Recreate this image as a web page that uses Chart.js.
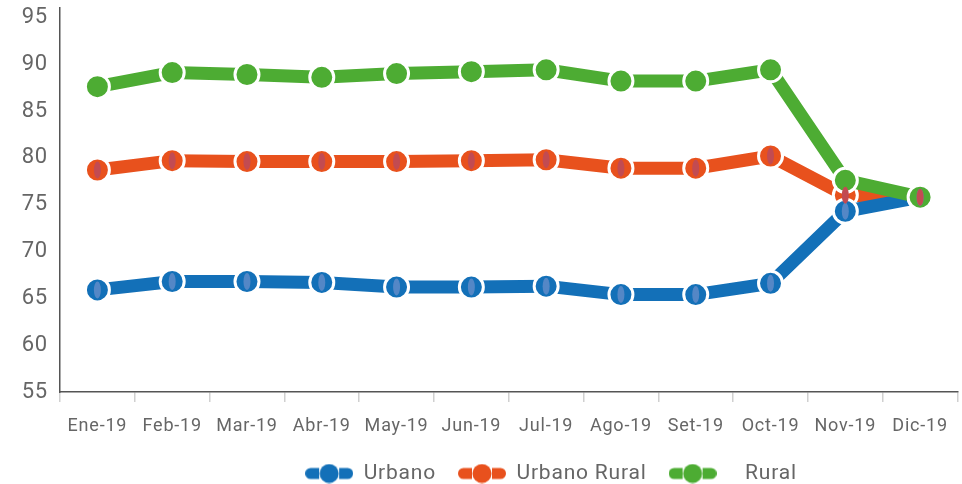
<!DOCTYPE html>
<html>
<head>
<meta charset="utf-8">
<script src="https://cdn.jsdelivr.net/npm/chart.js@4/dist/chart.umd.min.js"></script>
<style>
  html, body { margin: 0; padding: 0; background: #fff; }
  #wrap { width: 962px; height: 484px; }
</style>
</head>
<body>
<div id="wrap"><canvas id="chart"></canvas></div>
<script>
const months = ['Ene-19', 'Feb-19', 'Mar-19', 'Abr-19', 'May-19', 'Jun-19', 'Jul-19', 'Ago-19', 'Set-19', 'Oct-19', 'Nov-19', 'Dic-19'];
const urbano = [65.9, 66.8, 66.8, 66.7, 66.2, 66.2, 66.3, 65.4, 65.4, 66.6, 74.3, 75.8];
const urbanoRural = [78.7, 79.7, 79.6, 79.6, 79.6, 79.7, 79.8, 78.9, 78.9, 80.2, 76.0, 75.8];
const rural = [87.6, 89.1, 88.9, 88.6, 89.0, 89.2, 89.4, 88.2, 88.2, 89.4, 77.6, 75.8];
const yTicks = [55, 60, 65, 70, 75, 80, 85, 90, 95];

const BLUE = '#1370b8';
const ORANGE = '#e8511d';
const GREEN = '#4dac33';
const textColor = '#666';

// legend icon: half-round dash, dot, half-round dash
function legendIcon(color) {
    const c = document.createElement('canvas');
    c.width = 48;
    c.height = 20;
    const ctx = c.getContext('2d');
    ctx.fillStyle = color;
    ctx.beginPath();
    ctx.moveTo(14, 4.5);
    ctx.lineTo(14, 15.5);
    ctx.lineTo(5.5, 15.5);
    ctx.arc(5.5, 10, 5.5, Math.PI / 2, Math.PI * 1.5);
    ctx.closePath();
    ctx.fill();
    ctx.beginPath();
    ctx.arc(24, 10, 9.5, 0, Math.PI * 2);
    ctx.fill();
    ctx.beginPath();
    ctx.moveTo(34, 4.5);
    ctx.lineTo(42.5, 4.5);
    ctx.arc(42.5, 10, 5.5, -Math.PI / 2, Math.PI / 2);
    ctx.lineTo(34, 15.5);
    ctx.closePath();
    ctx.fill();
    return c;
}

// the lighter vertical ellipse inside the blue and orange markers
const highlightPlugin = {
    id: 'highlight',
    afterDatasetsDraw(chart) {
        const ctx = chart.ctx;
        chart.data.datasets.forEach((ds, i) => {
            if (!ds.highlight) return;
            const meta = chart.getDatasetMeta(i);
            ctx.save();
            ctx.fillStyle = ds.highlight;
            meta.data.forEach(pt => {
                ctx.beginPath();
                ctx.ellipse(pt.x, pt.y, 3.5, 8.5, 0, 0, Math.PI * 2);
                ctx.fill();
            });
            ctx.restore();
        });
    }
};

// slightly wider text, and legend nudged right like the original
const tweaksPlugin = {
    id: 'tweaks',
    beforeLayout(chart) { chart.ctx.letterSpacing = '0.8px'; },
    beforeDraw(chart) { chart.ctx.letterSpacing = '0.8px'; },
    afterLayout(chart) {
        chart.legend.left += 71;
        chart.legend.right += 71;
    }
};

const ctx = document.getElementById('chart').getContext('2d');
const chart = new Chart(ctx, {
    type: 'line',
    data: {
        labels: months,
        datasets: [{
            label: 'Urbano',
            data: urbano,
            borderColor: BLUE,
            backgroundColor: BLUE,
            pointBackgroundColor: BLUE,
            pointBorderColor: '#fff',
            highlight: '#5487c6',
            icon: legendIcon(BLUE),
            order: 1
        }, {
            label: 'Urbano Rural',
            data: urbanoRural,
            borderColor: ORANGE,
            backgroundColor: ORANGE,
            pointBackgroundColor: ORANGE,
            pointBorderColor: '#fff',
            highlight: '#c24b52',
            icon: legendIcon(ORANGE),
            order: 2
        }, {
            label: 'Rural',
            legendText: '   Rural',
            data: rural,
            borderColor: GREEN,
            backgroundColor: GREEN,
            pointBackgroundColor: GREEN,
            pointBorderColor: '#fff',
            icon: legendIcon(GREEN),
            order: 0
        }]
    },
    options: {
        responsive: true,
        maintainAspectRatio: false,
        animation: false,
        layout: { autoPadding: false, padding: { top: 8, right: 2, left: 0, bottom: -10 } },
        elements: {
            line: { borderWidth: 13, tension: 0 },
            point: { radius: 12, borderWidth: 3, hoverRadius: 12 }
        },
        plugins: {
            tooltip: { enabled: false },
            legend: {
                position: 'bottom',
                labels: {
                    usePointStyle: true,
                    pointStyleWidth: 48,
                    color: textColor,
                    font: { family: 'Roboto', size: 21 },
                    padding: 22,
                    generateLabels(chart) {
                        return chart.data.datasets.map((ds, i) => ({
                            text: ds.legendText || ds.label,
                            pointStyle: ds.icon,
                            fillStyle: ds.borderColor,
                            strokeStyle: ds.borderColor,
                            lineWidth: 0,
                            fontColor: textColor,
                            datasetIndex: i,
                            hidden: false
                        }));
                    }
                }
            }
        },
        scales: {
            x: {
                offset: true,
                grid: {
                    offset: true,
                    drawOnChartArea: false,
                    tickLength: 10,
                    color: '#d0d0d0',
                    lineWidth: 1.5
                },
                border: { color: '#555', width: 1.5 },
                ticks: {
                    color: textColor,
                    font: { family: 'Roboto', size: 18 },
                    padding: 14,
                    maxRotation: 0,
                    autoSkip: false
                },
                afterFit(scale) { scale.height = 49; }
            },
            y: {
                min: 55,
                max: 96,
                afterBuildTicks(scale) {
                    scale.ticks = yTicks.map(v => ({ value: v }));
                },
                grid: { display: true, drawOnChartArea: false, drawTicks: false },
                border: { color: '#555', width: 1.5 },
                ticks: {
                    color: textColor,
                    font: { family: 'Roboto', size: 22 },
                    padding: 12
                },
                afterFit(scale) {
                    scale.width = 60;
                    scale.paddingTop = 0;
                    scale.paddingBottom = 0;
                }
            }
        }
    },
    plugins: [highlightPlugin, tweaksPlugin]
});
</script>
</body>
</html>
